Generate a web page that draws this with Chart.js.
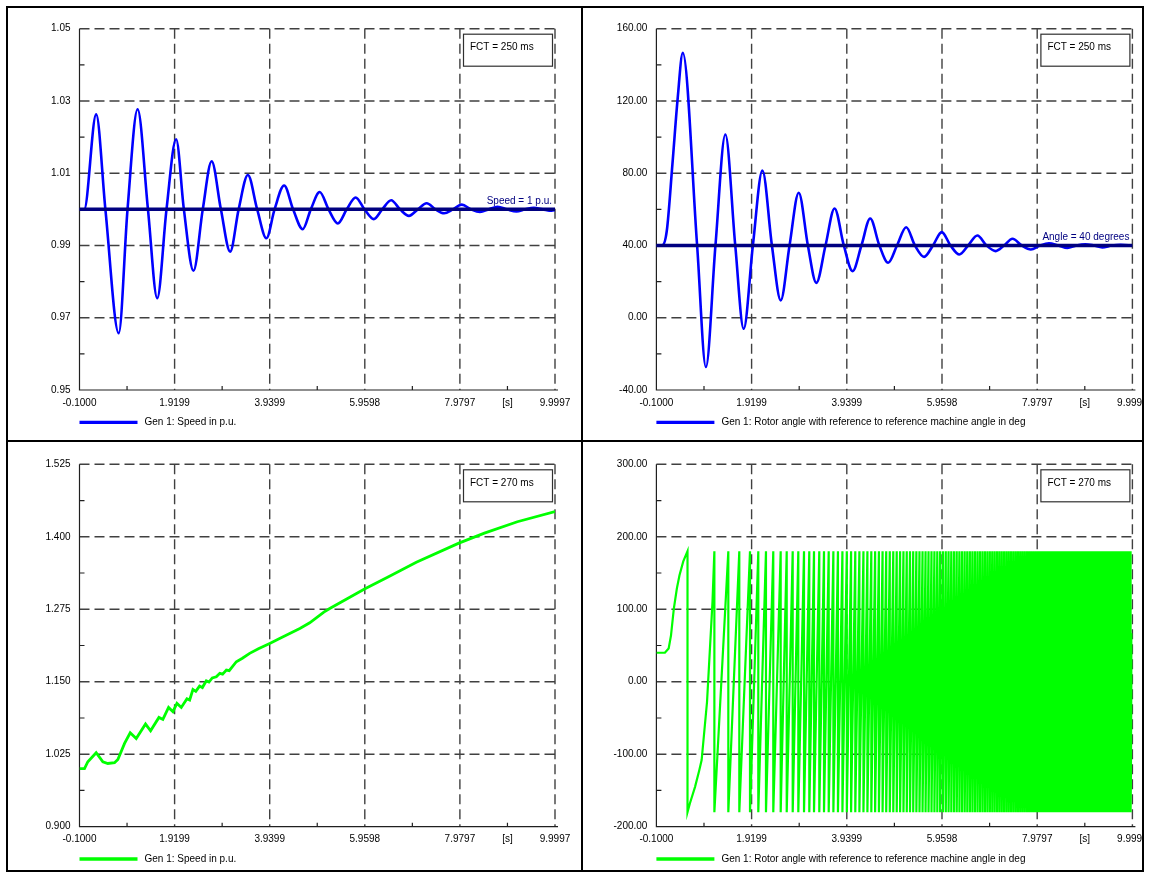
<!DOCTYPE html>
<html>
<head>
<meta charset="utf-8">
<title>Generator speed and rotor angle</title>
<script src="https://cdn.jsdelivr.net/npm/chart.js@4.4.0/dist/chart.umd.min.js"></script>
<style>
  html, body { margin: 0; padding: 0; background: #fff; }
  #page { position: relative; width: 1150px; height: 873px; overflow: hidden; background: #fff; }
  canvas { position: absolute; }
  .rule { position: absolute; background: #000; pointer-events: none; }
</style>
</head>
<body>
<div id="page">
  <canvas id="speedStable" width="573" height="432" style="left:8px;top:8px"></canvas>
  <canvas id="angleStable" width="559" height="432" style="left:583px;top:8px"></canvas>
  <canvas id="speedUnstable" width="573" height="431" style="left:8px;top:442px"></canvas>
  <canvas id="angleUnstable" width="559" height="431" style="left:583px;top:442px"></canvas>

  <div class="rule" style="left:6px;top:6px;width:1138px;height:2px"></div>
  <div class="rule" style="left:6px;top:870px;width:1138px;height:2px"></div>
  <div class="rule" style="left:6px;top:6px;width:2px;height:866px"></div>
  <div class="rule" style="left:1142px;top:6px;width:2px;height:866px"></div>
  <div class="rule" style="left:581px;top:6px;width:2px;height:866px"></div>
  <div class="rule" style="left:6px;top:440px;width:1138px;height:2px"></div>
</div>

<script>
// time axis, shared by the four plots
var xMajorTicks = [-0.1, 1.9199, 3.9399, 5.9598, 7.9797, 9.9997];
var xMajorLabels = ["-0.1000", "1.9199", "3.9399", "5.9598", "7.9797", "9.9997"];
var xMinorTicks = [0.9100, 2.9299, 4.9498, 6.9698, 8.9897];
var xMinorLabels = ["", "", "", "", "[s]"];

// FCT = 250 ms : speed (p.u.)
var speedStableTime = [
  -0.1, 0.0, 0.254, 0.45, 0.733, 0.92, 1.134, 1.354, 1.551, 1.748,
  1.952, 2.117, 2.321, 2.518, 2.707, 2.903, 3.100, 3.280, 3.477, 3.674,
  3.870, 4.043, 4.247, 4.436, 4.641, 4.813, 5.002, 5.190, 5.387, 5.576,
  5.765, 5.953, 6.150, 6.330, 6.520, 6.708, 6.897, 7.086, 7.274, 7.463,
  7.644, 7.832, 8.020, 8.217, 8.406, 8.595, 8.780, 8.980, 9.180, 9.370,
  9.550, 9.740, 9.930, 9.9997
];
var speedStableValue = [
  1.0, 1.0, 1.0263, 1.0, 0.9657, 1.0, 1.0277, 1.0, 0.9754, 1.0,
  1.0194, 1.0, 0.9830, 1.0, 1.0133, 1.0, 0.9883, 1.0, 1.0095, 1.0,
  0.9920, 1.0, 1.0066, 1.0, 0.9945, 1.0, 1.0048, 1.0, 0.9961, 1.0,
  1.0033, 1.0, 0.9973, 1.0, 1.0025, 1.0, 0.9982, 1.0, 1.0017, 1.0,
  0.9989, 1.0, 1.0013, 1.0, 0.9993, 1.0, 1.0007, 1.0, 0.9994, 1.0,
  1.0004, 1.0, 0.9996, 0.9998
];
var speedStableYMajor = [0.95, 0.97, 0.99, 1.01, 1.03, 1.05];
var speedStableYMinor = [0.96, 0.98, 1.00, 1.02, 1.04];
var speedRef = 1.0;

// FCT = 250 ms : rotor angle (deg)
var angleStableTime = [
  -0.1, 0.02, 0.12, 0.24, 0.35, 0.46, 0.764, 0.95, 1.153, 1.363,
  1.573, 1.752, 1.947, 2.149, 2.351, 2.538, 2.725, 2.920, 3.114, 3.293,
  3.488, 3.680, 3.877, 4.063, 4.250, 4.437, 4.631, 4.818, 5.005, 5.200,
  5.386, 5.580, 5.768, 5.955, 6.140, 6.328, 6.515, 6.710, 6.904, 7.100,
  7.277, 7.456, 7.651, 7.845, 8.040, 8.230, 8.430, 8.620, 8.810, 9.000,
  9.180, 9.360, 9.560, 9.750, 9.9997
];
var angleStableValue = [
  40, 40, 48, 85, 121, 146.6, 40, -27.3, 40, 101.4,
  40, -6.1, 40, 81.5, 40, 9.6, 40, 69.2, 40, 19.3,
  40, 60.5, 40, 25.8, 40, 54.9, 40, 30.4, 40, 50.1,
  40, 33.7, 40, 47.4, 40, 35.0, 40, 45.5, 40, 36.9,
  40, 43.7, 40, 37.8, 40, 41.2, 40, 38.6, 40, 40.7,
  40, 38.9, 40, 40.4, 40
];
var angleStableYMajor = [-40, 0, 40, 80, 120, 160];
var angleStableYMinor = [-20, 20, 60, 100, 140];
var angleRef = 40;

// FCT = 270 ms : speed (p.u.)
var speedUnstableTime = [
  -0.1, 0.006, 0.077, 0.254, 0.396, 0.502, 0.644, 0.715, 0.857, 0.977,
  1.105, 1.303, 1.410, 1.587, 1.671, 1.792, 1.884, 1.970, 2.062, 2.182,
  2.240, 2.310, 2.370, 2.450, 2.510, 2.593, 2.650, 2.720, 2.806, 2.880,
  2.940, 3.020, 3.080, 3.231, 3.360, 3.514, 3.700, 3.940, 4.150, 4.365,
  4.580, 4.790, 5.090, 5.215, 5.954, 6.464, 7.054, 7.958, 8.500, 9.200,
  9.9997
];
var speedUnstableValue = [
  1.000, 1.000, 1.012, 1.0276, 1.012, 1.009, 1.0103, 1.016, 1.0437, 1.062,
  1.052, 1.077, 1.0655, 1.0885, 1.085, 1.1057, 1.0983, 1.1126, 1.1057, 1.1207,
  1.1185, 1.1368, 1.1335, 1.1425, 1.1400, 1.1517, 1.1495, 1.1565, 1.1586, 1.1645,
  1.1630, 1.1700, 1.1690, 1.1845, 1.1905, 1.1989, 1.2070, 1.2161, 1.2245, 1.2333,
  1.2420, 1.2517, 1.2700, 1.2764, 1.3100, 1.3310, 1.3560, 1.3890, 1.4063, 1.4259,
  1.4433
];
var speedUnstableYMajor = [0.900, 1.025, 1.150, 1.275, 1.400, 1.525];
var speedUnstableYMinor = [0.9625, 1.0875, 1.2125, 1.3375, 1.4625];

// FCT = 270 ms : rotor angle (deg), pole slipping between -180 and 180
var angleUnstableStartTime = [-0.1, 0.08, 0.16, 0.21, 0.27, 0.335, 0.39, 0.47, 0.56,
  0.56, 0.61, 0.72, 0.81, 0.86, 0.974, 1.09, 1.13];
var angleUnstableStartValue = [40, 40, 46, 64, 101, 129, 147, 166, 180,
  -180, -168, -145, -122, -108, -28, 110, 180];
var angleWrapTimes = [
  1.130, 1.426, 1.659, 1.886, 2.062, 2.225, 2.380, 2.537, 2.665, 2.792,
  2.911, 3.032, 3.144, 3.244, 3.356, 3.456, 3.556, 3.655, 3.752, 3.847,
  3.940, 4.031, 4.120, 4.207, 4.293, 4.377, 4.460, 4.541, 4.621, 4.699,
  4.776, 4.852, 4.926, 4.999, 5.071, 5.142, 5.212, 5.281, 5.349, 5.416,
  5.482, 5.547, 5.611, 5.674, 5.737, 5.799, 5.860, 5.920, 5.980, 6.040,
  6.099, 6.157, 6.215, 6.272, 6.329, 6.385, 6.441, 6.496, 6.551, 6.605,
  6.659, 6.713, 6.766, 6.819, 6.871, 6.923, 6.975, 7.026, 7.077, 7.128,
  7.178, 7.228, 7.278, 7.328, 7.377, 7.426, 7.475, 7.524, 7.572, 7.620,
  7.668, 7.716, 7.764, 7.811, 7.858, 7.905, 7.952, 7.999, 8.045, 8.091,
  8.137, 8.183, 8.229, 8.275, 8.320, 8.365, 8.410, 8.455, 8.500, 8.545,
  8.590, 8.634, 8.678, 8.722, 8.766, 8.810, 8.854, 8.898, 8.942, 8.985,
  9.028, 9.071, 9.114, 9.157, 9.200, 9.243, 9.286, 9.329, 9.372, 9.415,
  9.457, 9.499, 9.541, 9.583, 9.625, 9.667, 9.709, 9.751, 9.793, 9.835,
  9.877, 9.919, 9.961
];
var angleWrapHigh = 180;
var angleWrapLow = -180;
var angleEndValue = 67;
var angleUnstableYMajor = [-200, -100, 0, 100, 200, 300];
var angleUnstableYMinor = [-150, -50, 50, 150, 250];

var BLUE = "#0000ff", GREEN = "#00ff00", NAVY = "#000080";
var FONT = '"Liberation Sans", Arial, sans-serif';

Chart.defaults.font.family = FONT;
Chart.defaults.font.size = 10;
Chart.defaults.color = "#000";

function toPoints(times, values) {
  return times.map(function (t, i) { return { x: t, y: values[i] }; });
}

function near(a, b) { return Math.abs(a - b) < 1e-6; }

// dashed grid at labelled ticks, small inward marks at the others
var scopeGrid = {
  id: "scopeGrid",
  beforeDatasetsDraw: function (chart, args, opts) {
    var ctx = chart.ctx, a = chart.chartArea, x = chart.scales.x, y = chart.scales.y;
    ctx.save();
    ctx.strokeStyle = "#404040";
    ctx.lineWidth = 1.4;
    ctx.setLineDash([10, 5]);
    ctx.beginPath();
    opts.xMajor.slice(1).forEach(function (v) {
      var px = x.getPixelForValue(v);
      ctx.moveTo(px, a.top); ctx.lineTo(px, a.bottom);
    });
    opts.yMajor.slice(1).forEach(function (v) {
      var py = y.getPixelForValue(v);
      ctx.moveTo(a.left, py); ctx.lineTo(a.right, py);
    });
    ctx.stroke();
    ctx.setLineDash([]);
    ctx.strokeStyle = "#202020";
    ctx.lineWidth = 1.2;
    ctx.beginPath();
    ctx.moveTo(a.left, a.top); ctx.lineTo(a.left, a.bottom); ctx.lineTo(a.right + 3, a.bottom);
    opts.xMinor.forEach(function (v) {
      var px = x.getPixelForValue(v);
      ctx.moveTo(px, a.bottom); ctx.lineTo(px, a.bottom - 4);
    });
    opts.yMinor.forEach(function (v) {
      var py = y.getPixelForValue(v);
      ctx.moveTo(a.left, py); ctx.lineTo(a.left + 5, py);
    });
    ctx.stroke();
    ctx.restore();
  }
};

// FCT box, reference line label and the legend under the axis
var panelNotes = {
  id: "panelNotes",
  afterDatasetsDraw: function (chart, args, opts) {
    var ctx = chart.ctx, a = chart.chartArea, y = chart.scales.y;
    ctx.save();
    ctx.font = "10px " + FONT;
    ctx.textBaseline = "middle";

    if (opts.refLabel) {
      ctx.fillStyle = NAVY;
      ctx.textAlign = "right";
      ctx.fillText(opts.refLabel, a.right - 3, y.getPixelForValue(opts.refValue) - 8.5);
    }

    var bw = 89, bh = 32, bx = a.right - 3 - bw, by = a.top + 5;
    ctx.fillStyle = "#fff";
    ctx.fillRect(bx, by, bw, bh);
    ctx.strokeStyle = "#303030";
    ctx.lineWidth = 1.2;
    ctx.strokeRect(bx + 0.5, by + 0.5, bw, bh);
    ctx.fillStyle = "#000";
    ctx.textAlign = "left";
    ctx.fillText(opts.note, bx + 7, by + 14);

    var ds = chart.data.datasets[opts.legendIndex];
    var ly = a.bottom + 32.3;
    ctx.strokeStyle = ds.borderColor;
    ctx.lineWidth = 3.3;
    ctx.beginPath();
    ctx.moveTo(a.left, ly); ctx.lineTo(a.left + 58, ly);
    ctx.stroke();
    ctx.fillStyle = "#000";
    ctx.fillText(ds.label, a.left + 65, ly);
    ctx.restore();
  }
};

function makeChart(id, p) {
  return new Chart(document.getElementById(id), {
    type: "line",
    data: { datasets: p.datasets },
    options: {
      responsive: false,
      animation: false,
      devicePixelRatio: 1,
      events: [],
      layout: { padding: { left: 0, top: p.top, right: p.right, bottom: 0 } },
      elements: { point: { radius: 0 } },
      scales: {
        x: {
          type: "linear",
          min: -0.1,
          max: 9.9997,
          grid: { display: false, drawTicks: false },
          border: { display: false },
          afterBuildTicks: function (s) {
            s.ticks = xMajorTicks.concat(xMinorTicks).sort(function (a, b) { return a - b; })
              .map(function (v) { return { value: v }; });
          },
          afterFit: function (s) { s.height = p.axisHeight; s.paddingLeft = 0; s.paddingRight = 0; },
          ticks: {
            autoSkip: false,
            maxRotation: 0,
            padding: 7,
            callback: function (v) {
              for (var i = 0; i < xMajorTicks.length; i++) if (near(v, xMajorTicks[i])) return xMajorLabels[i];
              for (var j = 0; j < xMinorTicks.length; j++) if (near(v, xMinorTicks[j])) return xMinorLabels[j];
              return "";
            }
          }
        },
        y: {
          type: "linear",
          min: p.yMajor[0],
          max: p.yMajor[p.yMajor.length - 1],
          grid: { display: false, drawTicks: false },
          border: { display: false },
          afterBuildTicks: function (s) {
            s.ticks = p.yMajor.concat(p.yMinor).sort(function (a, b) { return a - b; })
              .map(function (v) { return { value: v }; });
          },
          afterFit: function (s) { s.width = p.axisWidth; s.paddingTop = 0; s.paddingBottom = 0; },
          ticks: {
            autoSkip: false,
            padding: 9,
            callback: function (v) {
              for (var i = 0; i < p.yMajor.length; i++) if (near(v, p.yMajor[i])) return v.toFixed(p.decimals);
              return "";
            }
          }
        }
      },
      plugins: {
        legend: { display: false },
        tooltip: { enabled: false },
        scopeGrid: { xMajor: xMajorTicks, xMinor: xMinorTicks, yMajor: p.yMajor, yMinor: p.yMinor },
        panelNotes: { note: p.note, refLabel: p.refLabel, refValue: p.refValue, legendIndex: p.legendIndex }
      }
    },
    plugins: [scopeGrid, panelNotes]
  });
}

function refLine(value) {
  return {
    label: "ref",
    data: [{ x: -0.1, y: value }, { x: 9.9997, y: value }],
    borderColor: NAVY,
    borderWidth: 3.5,
    order: 0
  };
}

// build the four windows
var angleUnstablePoints = toPoints(angleUnstableStartTime, angleUnstableStartValue);
angleWrapTimes.forEach(function (t, i) {
  angleUnstablePoints.push({ x: t, y: angleWrapLow });
  if (i + 1 < angleWrapTimes.length) angleUnstablePoints.push({ x: angleWrapTimes[i + 1], y: angleWrapHigh });
  else angleUnstablePoints.push({ x: 9.9997, y: angleEndValue });
});

makeChart("speedStable", {
  datasets: [
    refLine(speedRef),
    { label: "Gen 1: Speed in p.u.", data: toPoints(speedStableTime, speedStableValue),
      borderColor: BLUE, borderWidth: 2.6, cubicInterpolationMode: "monotone", order: 1 }
  ],
  legendIndex: 1,
  yMajor: speedStableYMajor, yMinor: speedStableYMinor, decimals: 2,
  note: "FCT = 250 ms", refLabel: "Speed = 1 p.u.", refValue: speedRef,
  top: 20.7, right: 26, axisWidth: 71.5, axisHeight: 50
});

makeChart("angleStable", {
  datasets: [
    refLine(angleRef),
    { label: "Gen 1: Rotor angle with reference to reference machine angle in deg",
      data: toPoints(angleStableTime, angleStableValue),
      borderColor: BLUE, borderWidth: 2.6, cubicInterpolationMode: "monotone", order: 1 }
  ],
  legendIndex: 1,
  yMajor: angleStableYMajor, yMinor: angleStableYMinor, decimals: 2,
  note: "FCT = 250 ms", refLabel: "Angle = 40 degrees", refValue: angleRef,
  top: 20.7, right: 9.6, axisWidth: 73.4, axisHeight: 50
});

makeChart("speedUnstable", {
  datasets: [
    { label: "Gen 1: Speed in p.u.", data: toPoints(speedUnstableTime, speedUnstableValue),
      borderColor: GREEN, borderWidth: 2.8, tension: 0 }
  ],
  legendIndex: 0,
  yMajor: speedUnstableYMajor, yMinor: speedUnstableYMinor, decimals: 3,
  note: "FCT = 270 ms",
  top: 22.3, right: 26, axisWidth: 71.5, axisHeight: 46.3
});

makeChart("angleUnstable", {
  datasets: [
    { label: "Gen 1: Rotor angle with reference to reference machine angle in deg",
      data: angleUnstablePoints, borderColor: GREEN, borderWidth: 2.2, tension: 0 }
  ],
  legendIndex: 0,
  yMajor: angleUnstableYMajor, yMinor: angleUnstableYMinor, decimals: 2,
  note: "FCT = 270 ms",
  top: 22.3, right: 9.6, axisWidth: 73.4, axisHeight: 46.3
});
</script>
</body>
</html>
